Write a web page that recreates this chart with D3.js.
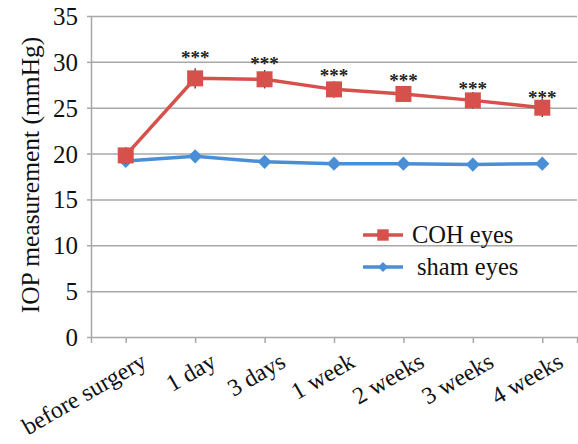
<!DOCTYPE html>
<html>
<head>
<meta charset="utf-8">
<script src="https://cdn.jsdelivr.net/npm/d3@7"></script>
<style>
  body { margin: 0; background: #fff; }
  svg { display: block; font-family: "Liberation Serif", "DejaVu Serif", serif; }
  .grid line { stroke: #a8a8a8; stroke-width: 1.5; }
  .grid .domain { display: none; }
  .axis .domain, .axis line { stroke: #a8a8a8; stroke-width: 1.5; }
  .axis text { fill: #111; }
</style>
</head>
<body>
<svg id="chart" width="578" height="444"></svg>
<script>
const categories = ['before surgery', '1 day', '3 days', '1 week', '2 weeks', '3 weeks', '4 weeks'];
const cohValues = [19.8, 28.2, 28.1, 27.0, 26.5, 25.8, 25.0];
const cohErrors = [0.9, 1.1, 1.0, 0.9, 0.8, 0.9, 1.0];
const shamValues = [19.2, 19.7, 19.1, 18.9, 18.9, 18.8, 18.9];
const shamErrors = [0.4, 0.4, 0.4, 0.4, 0.4, 0.4, 0.4];
const sigLabel = '***';
const sigLevels = [null, 30.9, 30.2, 28.9, 28.3, 27.5, 26.5];
const yTicks = [0, 5, 10, 15, 20, 25, 30, 35];
const seriesNames = ['COH eyes', 'sham eyes'];

const width = 578;
const height = 444;
const margin = { top: 16, right: 1, bottom: 107, left: 91 };
const innerWidth = width - margin.left - margin.right;
const innerHeight = height - margin.top - margin.bottom;

const red = '#d6504c';
const blue = '#4a8fd6';
const serif = '"Liberation Serif", "DejaVu Serif", serif';

const svg = d3.select('#chart');

const x = d3.scalePoint()
  .domain(categories)
  .range([0, innerWidth])
  .padding(0.5);

const y = d3.scaleLinear()
  .domain([0, 35])
  .range([innerHeight, 0]);

const chart = svg.append('g')
  .attr('transform', `translate(${margin.left},${margin.top})`);

// gridlines
chart.append('g')
  .attr('class', 'grid')
  .call(d3.axisLeft(y).tickValues(yTicks.slice(1)).tickSize(-innerWidth).tickFormat(''));

// y axis
chart.append('g')
  .attr('class', 'axis')
  .call(d3.axisLeft(y).tickValues(yTicks).tickSize(4).tickSizeOuter(0).tickPadding(9))
  .attr('font-family', serif)
  .attr('font-size', 25)
  .selectAll('text').attr('dy', '0.34em');

// x axis
const xAxis = chart.append('g')
  .attr('class', 'axis')
  .attr('transform', `translate(0,${innerHeight})`)
  .call(d3.axisBottom(x).tickSize(6).tickSizeOuter(6))
  .attr('font-family', serif)
  .attr('font-size', 24);
xAxis.selectAll('text')
  .attr('text-anchor', 'end')
  .attr('y', 0)
  .attr('dy', 0)
  .attr('transform', 'translate(22,29) rotate(-30)');

// y title
svg.append('text')
  .attr('transform', `translate(39,175) rotate(-90)`)
  .attr('text-anchor', 'middle')
  .attr('font-size', 25.5)
  .attr('fill', '#111')
  .text('IOP measurement (mmHg)');

const line = d3.line()
  .x((d, i) => x(categories[i]))
  .y(d => y(d));

const diamond = d3.symbol().type(d3.symbolSquare).size(100);
const square = d3.symbol().type(d3.symbolSquare).size(256);

// error bars
function errorBars(values, errors) {
  chart.append('g')
    .selectAll('line')
    .data(values)
    .enter()
    .append('line')
    .attr('x1', (d, i) => x(categories[i]))
    .attr('x2', (d, i) => x(categories[i]))
    .attr('y1', (d, i) => y(d + errors[i]))
    .attr('y2', (d, i) => y(d - errors[i]))
    .attr('stroke', '#333')
    .attr('stroke-width', 1.3);
}

// sham series
errorBars(shamValues, shamErrors);
chart.append('path')
  .datum(shamValues)
  .attr('fill', 'none')
  .attr('stroke', blue)
  .attr('stroke-width', 3.5)
  .attr('d', line);
chart.append('g')
  .selectAll('path')
  .data(shamValues)
  .enter()
  .append('path')
  .attr('d', diamond)
  .attr('fill', blue)
  .attr('transform', (d, i) => `translate(${x(categories[i])},${y(d)}) rotate(45)`);

// COH series
errorBars(cohValues, cohErrors);
chart.append('path')
  .datum(cohValues)
  .attr('fill', 'none')
  .attr('stroke', red)
  .attr('stroke-width', 3.5)
  .attr('d', line);
chart.append('g')
  .selectAll('path')
  .data(cohValues)
  .enter()
  .append('path')
  .attr('d', square)
  .attr('fill', red)
  .attr('transform', (d, i) => `translate(${x(categories[i])},${y(d)})`);

// significance marks
chart.append('g')
  .selectAll('text')
  .data(sigLevels)
  .enter()
  .filter(d => d !== null)
  .append('text')
  .attr('x', (d, i) => x(categories[sigLevels.indexOf(d)]))
  .attr('y', d => y(d) + 10)
  .attr('text-anchor', 'middle')
  .attr('font-size', 19)
  .attr('font-weight', 'bold')
  .attr('fill', '#222')
  .text(sigLabel);

// legend
const legend = svg.append('g');
const legendItems = [
  { name: seriesNames[0], color: red, sym: square.size(130), rot: 0, y: 235, tx: 412 },
  { name: seriesNames[1], color: blue, sym: d3.symbol().type(d3.symbolSquare).size(50), rot: 45, y: 267, tx: 417 }
];
legendItems.forEach(item => {
  const g = legend.append('g');
  g.append('line')
    .attr('x1', 363).attr('x2', 403)
    .attr('y1', item.y).attr('y2', item.y)
    .attr('stroke', item.color)
    .attr('stroke-width', 3.5);
  g.append('path')
    .attr('d', item.sym)
    .attr('fill', item.color)
    .attr('transform', `translate(383,${item.y}) rotate(${item.rot})`);
  g.append('text')
    .attr('x', item.tx)
    .attr('y', item.y + 8)
    .attr('font-size', 24.5)
    .attr('fill', '#111')
    .text(item.name);
});
</script>
</body>
</html>
